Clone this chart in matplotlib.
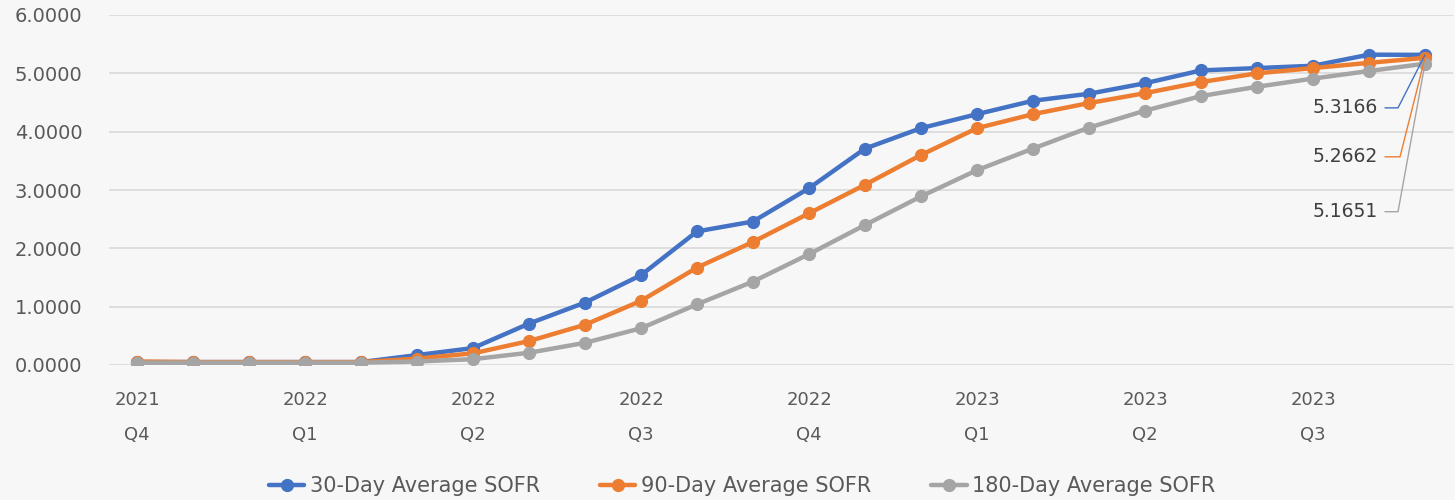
import math
import matplotlib
matplotlib.use("Agg")
import matplotlib.pyplot as plt

# ---- data ----
quarter_labels = ["2021\nQ4", "2022\nQ1", "2022\nQ2", "2022\nQ3", "2022\nQ4",
                  "2023\nQ1", "2023\nQ2", "2023\nQ3"]
sofr_30 = [0.05, 0.05, 0.05, 0.05, 0.05, 0.17, 0.29, 0.71, 1.07, 1.54, 2.29, 2.46,
           3.03, 3.71, 4.06, 4.30, 4.53, 4.65, 4.83, 5.05, 5.09, 5.13, 5.32, 5.3166]
sofr_90 = [0.06, 0.05, 0.05, 0.05, 0.05, 0.11, 0.20, 0.41, 0.69, 1.10, 1.67, 2.11,
           2.60, 3.09, 3.60, 4.06, 4.30, 4.49, 4.66, 4.85, 5.00, 5.09, 5.18, 5.2662]
sofr_180 = [0.04, 0.04, 0.04, 0.04, 0.04, 0.06, 0.10, 0.21, 0.38, 0.63, 1.04, 1.43,
            1.90, 2.40, 2.89, 3.34, 3.71, 4.07, 4.36, 4.61, 4.77, 4.91, 5.04, 5.1651]
series_names = ["30-Day Average SOFR", "90-Day Average SOFR", "180-Day Average SOFR"]
colors = ["#4472C4", "#ED7D31", "#A5A5A5"]

plt.rcParams['font.family'] = ['DejaVu Sans']
BG = "#f7f7f7"
TXT = "#595959"

fig = plt.figure(figsize=(14.55, 5.0), dpi=100, facecolor=BG)
ax = fig.add_axes([109/1455, 1-365/500, (1453-109)/1455, 350/500], facecolor=BG)

x = list(range(len(sofr_30)))
for vals, name, c in zip([sofr_30, sofr_90, sofr_180], series_names, colors):
    ax.plot(x, vals, color=c, lw=3.2, marker='o', markersize=8.5, label=name,
            solid_capstyle='round', zorder=3)

ax.set_xlim(-0.5, len(x) - 0.5)
ax.set_ylim(0, 6)
ax.set_yticks([0, 1, 2, 3, 4, 5, 6])
ax.set_yticklabels([f"{v:.4f}" for v in [0, 1, 2, 3, 4, 5, 6]], fontsize=14)
ax.set_xticks(x[::3])
ax.set_xticklabels(quarter_labels, linespacing=2.2, fontsize=13)
ax.tick_params(axis='both', length=0, labelcolor=TXT)
ax.tick_params(axis='y', pad=19)
ax.tick_params(axis='x', pad=19)
ax.grid(axis='y', color='#d9d9d9', lw=1.2, zorder=0)
for s in ax.spines.values():
    s.set_visible(False)

# data labels for last point
offsets = [(-40, -53, 13), (-40, -99, 15), (-40, -148, 13)]
for vals, c, (dx, dy, cx) in zip([sofr_30, sofr_90, sofr_180], colors, offsets):
    ang = math.degrees(math.atan2(-dy, -(dx + cx)))
    ax.annotate(f"{vals[-1]:.4f}", xy=(x[-1], vals[-1]), xytext=(dx - 7, dy),
                textcoords='offset pixels', ha='right', va='center',
                fontsize=13.5, color='#404040',
                arrowprops=dict(arrowstyle='-', color=c, lw=1.0,
                                shrinkA=3, shrinkB=0,
                                connectionstyle=f"angle,angleA=0,angleB={ang},rad=0"),
                zorder=4)

leg = fig.legend(loc='center', bbox_to_anchor=(0.51, 0.027), ncol=3, frameon=False,
                 fontsize=15, handlelength=1.7, handletextpad=0.25, columnspacing=2.9,
                 labelcolor=TXT)

fig.savefig("out.png", dpi=100, facecolor=BG)
